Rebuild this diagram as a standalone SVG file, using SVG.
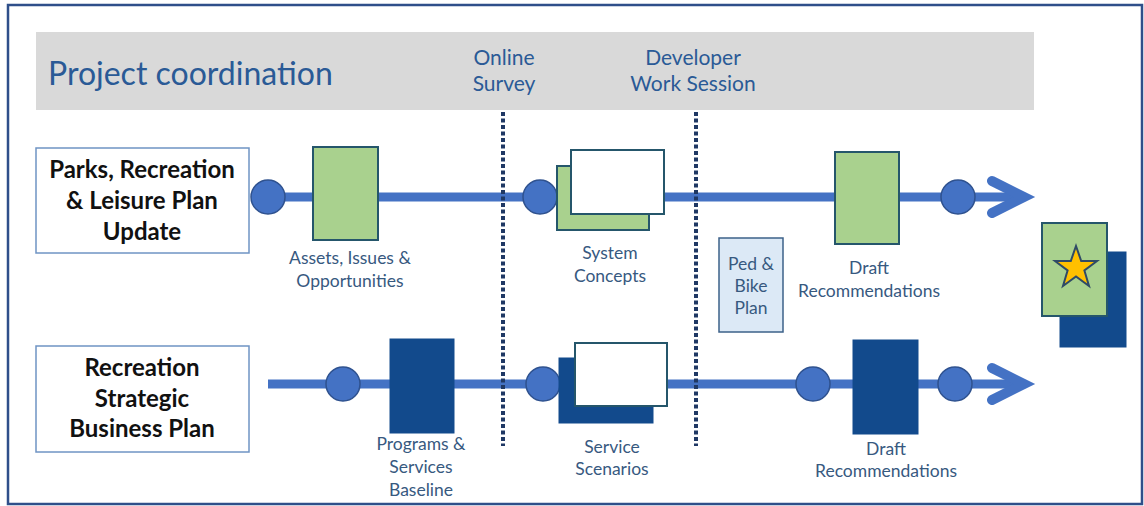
<svg xmlns="http://www.w3.org/2000/svg" width="1144" height="506" viewBox="0 0 1144 506">
  <style>
    .frame { fill: #ffffff; stroke: #2f4f8a; stroke-width: 2.5; }
    .band { fill: #d9d9d9; }
    .head { font-family: Lato, "Open Sans", sans-serif; fill: #2a5a96; text-anchor: middle; font-size: 21px; }
    .plan { fill: #ffffff; stroke: #6f94c4; stroke-width: 1.5; }
    .plan-text { font-family: Lato, "Open Sans", sans-serif; font-weight: bold; font-size: 24px; fill: #111111; text-anchor: middle; }
    .label { font-family: Lato, "Open Sans", sans-serif; font-size: 17.5px; fill: #37597f; text-anchor: middle; }
    .track { stroke: #4472c4; stroke-width: 9; fill: none; }
    .chevron { stroke: #4472c4; stroke-width: 10; fill: none; stroke-linecap: round; stroke-linejoin: miter; }
    .dot { fill: #4472c4; stroke: #2f528f; stroke-width: 1.5; }
    .green { fill: #a9d18e; stroke: #25566b; stroke-width: 2; }
    .navy { fill: #124a8c; stroke: #124a8c; stroke-width: 1; }
    .paper { fill: #ffffff; stroke: #25566b; stroke-width: 2; }
    .milestone { stroke: #1f3864; stroke-width: 4; stroke-dasharray: 4 2.5; fill: none; }
    .pedbike { fill: #dce9f6; stroke: #3d6189; stroke-width: 1.5; }
  </style>

  <!-- outer frame -->
  <rect class="frame" x="8" y="5" width="1134" height="499"/>

  <!-- coordination band with milestone headings -->
  <g id="coordination">
    <rect class="band" x="36" y="32" width="998" height="78"/>
    <text x="48" y="85" font-family="Lato, 'Open Sans', sans-serif" font-size="32" fill="#2a5a96">Project coordination</text>
  </g>
  <g id="online-survey">
    <text class="head" x="504" y="65">Online</text>
    <text class="head" x="504" y="91">Survey</text>
  </g>
  <g id="developer-session">
    <text class="head" x="693" y="65">Developer</text>
    <text class="head" x="693" y="91">Work Session</text>
  </g>

  <!-- connectors: tracks, arrowheads, milestone markers -->
  <g id="connectors">
    <line class="track" x1="268" y1="197" x2="1020" y2="197"/>
    <polyline class="chevron" points="992,181 1024,197 992,213"/>
    <line class="track" x1="268" y1="384" x2="1020" y2="384"/>
    <polyline class="chevron" points="992,368 1024,384 992,400"/>
    <line class="milestone" x1="503" y1="112" x2="503" y2="446"/>
    <line class="milestone" x1="696" y1="112" x2="696" y2="446"/>
  </g>

  <!-- Parks, Recreation & Leisure Plan Update row -->
  <g id="parks-plan">
    <rect class="plan" x="36" y="148" width="213" height="105"/>
    <text class="plan-text" x="142" y="178">Parks, Recreation</text>
    <text class="plan-text" x="142" y="209">&amp; Leisure Plan</text>
    <text class="plan-text" x="142" y="240">Update</text>
  </g>
  <g id="parks-start">
    <circle class="dot" cx="268" cy="197" r="17"/>
  </g>
  <g id="assets-issues">
    <rect class="green" x="313" y="147" width="65" height="93"/>
    <text class="label" x="350" y="264">Assets, Issues &amp;</text>
    <text class="label" x="350" y="287">Opportunities</text>
  </g>
  <g id="survey-point-top">
    <circle class="dot" cx="540" cy="197" r="17"/>
  </g>
  <g id="system-concepts">
    <rect class="green" x="557" y="166" width="92" height="64"/>
    <rect class="paper" x="571" y="150" width="93" height="64"/>
    <text class="label" x="610" y="259">System</text>
    <text class="label" x="610" y="282">Concepts</text>
  </g>
  <g id="ped-bike-plan">
    <rect class="pedbike" x="719" y="238" width="64" height="94"/>
    <text class="label" x="751" y="270">Ped &amp;</text>
    <text class="label" x="751" y="292">Bike</text>
    <text class="label" x="751" y="314">Plan</text>
  </g>
  <g id="draft-top">
    <rect class="green" x="835" y="152" width="64" height="92"/>
    <text class="label" x="869" y="274">Draft</text>
    <text class="label" x="869" y="297">Recommendations</text>
  </g>
  <g id="parks-end">
    <circle class="dot" cx="958" cy="197" r="17"/>
  </g>

  <!-- Recreation Strategic Business Plan row -->
  <g id="business-plan">
    <rect class="plan" x="36" y="346" width="213" height="106"/>
    <text class="plan-text" x="142" y="376">Recreation</text>
    <text class="plan-text" x="142" y="407">Strategic</text>
    <text class="plan-text" x="142" y="437">Business Plan</text>
  </g>
  <g id="business-start">
    <circle class="dot" cx="343" cy="384" r="17"/>
  </g>
  <g id="programs-baseline">
    <rect class="navy" x="390" y="339" width="64" height="94"/>
    <text class="label" x="421" y="450">Programs &amp;</text>
    <text class="label" x="421" y="473">Services</text>
    <text class="label" x="421" y="496">Baseline</text>
  </g>
  <g id="survey-point-bottom">
    <circle class="dot" cx="543" cy="384" r="17"/>
  </g>
  <g id="service-scenarios">
    <rect class="navy" x="559" y="358" width="94" height="65"/>
    <rect class="paper" x="575" y="343" width="92" height="63"/>
    <text class="label" x="612" y="453">Service</text>
    <text class="label" x="612" y="475">Scenarios</text>
  </g>
  <g id="draft-point-bottom">
    <circle class="dot" cx="813" cy="384" r="17"/>
  </g>
  <g id="draft-bottom">
    <rect class="navy" x="853" y="340" width="65" height="94"/>
    <text class="label" x="886" y="455">Draft</text>
    <text class="label" x="886" y="477">Recommendations</text>
  </g>
  <g id="business-end">
    <circle class="dot" cx="955" cy="384" r="17"/>
  </g>

  <!-- combined final plan -->
  <g id="final-plan">
    <rect class="navy" x="1060" y="252" width="66" height="95"/>
    <rect class="green" x="1042" y="223" width="65" height="93"/>
    <polygon points="1076,246 1081.2,261 1097,261 1084.4,270.5 1089,286 1076,276.5 1063,286 1067.6,270.5 1055,261 1070.8,261" fill="#ffc000" stroke="#2f4a66" stroke-width="2" stroke-linejoin="miter"/>
  </g>
</svg>
